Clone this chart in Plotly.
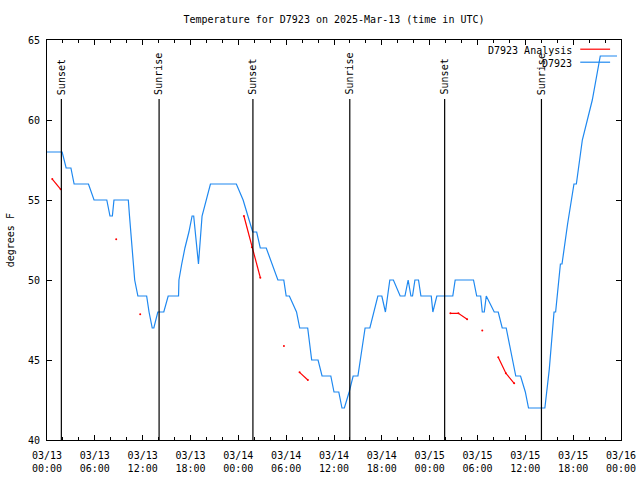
import pandas as pd
import plotly.graph_objects as go

# ---------------- data (hours after 2025-03-13 00:00 UTC) ----------------
start = pd.Timestamp("2025-03-13 00:00")

obs_hours = [0.0, 1.9, 2.4, 3.0, 3.4, 5.2, 5.9, 7.5, 7.9, 8.2, 8.4, 10.2, 10.35, 10.5,
             10.65, 10.8, 11.0, 11.4, 12.5, 12.8, 13.2, 13.4, 13.9, 14.65, 15.2, 16.5,
             16.55, 16.9, 17.3, 17.8, 18.2, 18.4, 18.6, 18.8, 18.95, 19.0, 19.45, 20.5,
             23.75, 24.2, 24.6, 25.2, 25.8, 26.3, 26.75, 27.5, 28.2, 28.96, 29.7, 30.0,
             30.4, 31.3, 31.7, 32.7, 33.2, 34.0, 34.5, 35.6, 36.0, 36.6, 37.0, 37.3,
             37.9, 38.4, 39.0, 39.9, 40.5, 41.5, 42.0, 42.45, 43.0, 43.45, 44.3, 44.9,
             45.3, 45.65, 45.85, 46.15, 46.6, 46.9, 48.2, 48.4, 48.9, 50.9, 51.2, 53.5,
             53.9, 54.4, 54.6, 54.85, 55.1, 55.6, 56.1, 56.6, 57.1, 57.6, 58.0, 58.4,
             58.8, 59.4, 60.0, 60.4, 62.45, 63.0, 63.6, 63.8, 64.4, 64.6, 65.3, 66.1,
             66.4, 67.15, 68.4, 69.4, 71.5]
obs_temp = [58, 58, 57, 57, 56, 56, 55, 55, 54, 54, 55, 55, 54, 53,
            52, 51, 50, 49, 49, 48, 47, 47, 48, 48, 49, 49,
            50, 51, 52, 53, 54, 54, 53, 52, 51, 51, 54, 56,
            56, 55.5, 55, 54, 53, 53, 52, 52, 51, 50, 50, 49,
            49, 48, 47, 47, 45, 45, 44, 44, 43, 43, 42, 42,
            43, 44, 44, 47, 47, 49, 49, 48, 50, 50, 49, 49,
            50, 49, 49, 50, 50, 49, 49, 48, 49, 49, 50, 50,
            49, 49, 48, 48, 49, 48.5, 48, 48, 47, 47, 46, 45,
            44, 44, 43, 42, 42, 44.4, 48, 48, 51, 51, 53.5, 56,
            56, 58.75, 61.25, 64, 64]

# analysis series (None = gap)
ana_hours = [0.66, 1.72, None, 8.68, None, 11.69, None, 24.7, 25.7, 26.76, None,
             29.72, None, 31.68, 32.72, None, 50.6, 51.6, 52.7, None, 54.6, None,
             56.6, 57.56, 58.6]
ana_temp = [56.31, 55.67, None, 52.54, None, 47.86, None, 54.0, 52.05, 50.14, None,
            45.88, None, 44.23, 43.75, None, 47.92, 47.92, 47.54, None, 46.85, None,
            45.17, 44.17, 43.54]

sun_labels = ["Sunset", "Sunrise", "Sunset", "Sunrise", "Sunset", "Sunrise"]
sun_hours = [1.8, 14.06, 25.83, 37.98, 49.88, 62.02]

station = "D7923"
series_names = [station + " Analysis", station]
title_text = "Temperature for D7923 on 2025-Mar-13 (time in UTC)"
y_title = "degrees F"

# ---------------- build ----------------
def to_time(hs):
    return [None if h is None else start + pd.Timedelta(hours=h) for h in hs]

FONT = "DejaVu Sans Mono"
FS = 10
BLUE = "#1E88F0"
RED = "#FF0000"

fig = go.Figure()
fig.add_trace(go.Scatter(x=to_time(obs_hours), y=obs_temp, mode="lines",
                         line=dict(color=BLUE, width=1.2), name=series_names[1],
                         showlegend=False))
fig.add_trace(go.Scatter(x=to_time(ana_hours), y=ana_temp, mode="lines+markers",
                         line=dict(color=RED, width=1.2), marker=dict(size=2, color=RED),
                         connectgaps=False, name=series_names[0], showlegend=False))

shapes = []
annotations = []
for lab, h in zip(sun_labels, sun_hours):
    t = start + pd.Timedelta(hours=h)
    shapes.append(dict(type="line", xref="x", yref="paper", x0=t, x1=t, y0=0, y1=0.8525,
                       line=dict(color="black", width=1.2)))
    annotations.append(dict(x=t, y=0.858, xref="x", yref="paper", text=lab,
                            textangle=-90, showarrow=False, xanchor="center",
                            yanchor="bottom", font=dict(family=FONT, size=FS, color="black")))

# legend (text on the left, sample line on the right, gnuplot style)
leg_rows = [(series_names[0], RED, 0.975), (series_names[1], BLUE, 0.9425)]
for name, col, yp in leg_rows:
    annotations.append(dict(x=0.918, y=yp, xref="paper", yref="paper", text=name,
                            showarrow=False, xanchor="right", yanchor="middle",
                            font=dict(family=FONT, size=FS, color="black")))
    shapes.append(dict(type="line", xref="paper", yref="paper", x0=0.929, x1=0.981,
                       y0=yp + 0.002, y1=yp + 0.002, line=dict(color=col, width=1.2)))

annotations.append(dict(x=-0.064, y=0.5, xref="paper", yref="paper", text=y_title,
                        textangle=-90, showarrow=False, xanchor="center", yanchor="middle",
                        font=dict(family=FONT, size=FS, color="black")))

fig.update_layout(
    width=640, height=480,
    margin=dict(l=47, r=19, t=40, b=40, autoexpand=False),
    paper_bgcolor="white", plot_bgcolor="white",
    title=dict(text=title_text, x=0.5, xref="paper", y=0.96, yanchor="middle",
               font=dict(family=FONT, size=FS, color="black")),
    font=dict(family=FONT, size=FS, color="black"),
    shapes=shapes, annotations=annotations,
    showlegend=False, hovermode=False,
)
fig.update_xaxes(
    type="date", range=[start, start + pd.Timedelta(hours=72)],
    tick0=start, dtick=6 * 3600 * 1000, tickformat="%m/%d<br>%H:%M",
    ticks="inside", ticklen=5, tickcolor="black", tickwidth=1,
    minor=dict(dtick=2 * 3600 * 1000, tick0=start, ticks="inside", ticklen=3,
               tickcolor="black", showgrid=False),
    showline=True, linecolor="black", linewidth=1, mirror="allticks",
    showgrid=False, zeroline=False, tickfont=dict(family=FONT, size=FS),
    automargin=False, ticklabelstandoff=6,
)
fig.update_yaxes(
    range=[40, 65], dtick=5, tick0=40,
    ticks="inside", ticklen=5, tickcolor="black", tickwidth=1,
    showline=True, linecolor="black", linewidth=1, mirror="allticks",
    showgrid=False, zeroline=False, tickfont=dict(family=FONT, size=FS),
    automargin=False, ticklabelstandoff=4,
)

fig.write_html("out.html", config={"displayModeBar": False, "staticPlot": True},
               post_script="document.body.style.margin='0';document.body.style.overflow='hidden';")
